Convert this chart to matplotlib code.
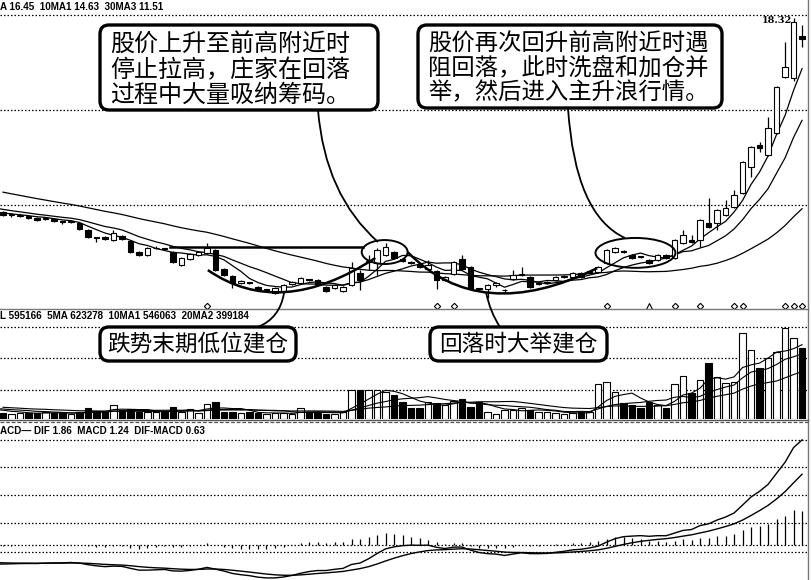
import numpy as np
import pandas as pd
import matplotlib
matplotlib.use("Agg")
import matplotlib.pyplot as plt
from matplotlib.patches import FancyBboxPatch, Ellipse, PathPatch
from matplotlib.path import Path

plt.rcParams['font.family'] = ['Noto Sans CJK SC', 'DejaVu Sans']

# ---------------- data ----------------
opens = [11.44, 11.33, 11.29, 11.30, 11.23, 11.19, 11.19, 11.09, 11.08, 11.05,
         10.80, 10.52, 10.55, 10.45, 10.59, 10.41, 10.02, 9.91, 10.15, 10.13,
         10.02, 9.56, 9.77, 9.91, 9.98, 10.09, 9.42, 9.17, 8.92, 8.93,
         8.78, 8.67, 8.57, 8.60, 8.89, 8.92, 9.04, 9.03, 8.78, 8.74,
         8.64, 8.85, 9.28, 9.67, 9.63, 9.91, 10.02, 9.76, 9.67, 9.60,
         9.42, 9.35, 9.03, 9.24, 9.77, 9.49, 8.72, 8.71, 8.85, 8.66,
         9.06, 9.21, 9.14, 8.88, 8.92, 9.03, 9.13, 9.14, 9.28, 9.31,
         9.31, 9.63, 10.02, 10.03, 9.91, 9.85, 9.74, 9.74, 9.91, 9.81,
         10.34, 10.45, 10.45, 11.05, 11.05, 11.33, 11.62, 12.11, 13.04, 13.82,
         13.46, 14.24, 16.23, 16.19, 17.68]
highs = [11.48, 11.40, 11.36, 11.33, 11.27, 11.25, 11.23, 11.13, 11.14, 11.08,
         10.83, 10.53, 10.58, 10.80, 10.62, 10.44, 10.05, 10.19, 10.22, 10.17,
         10.05, 9.84, 9.99, 10.05, 10.34, 10.13, 9.45, 9.20, 9.03, 8.97,
         8.81, 8.72, 8.78, 8.90, 8.99, 9.14, 9.08, 9.06, 8.81, 8.88,
         8.81, 9.67, 9.38, 9.92, 10.16, 10.34, 10.06, 9.80, 9.71, 9.63,
         9.74, 9.38, 9.17, 9.70, 9.92, 9.52, 8.76, 8.88, 8.96, 8.72,
         9.38, 9.49, 9.17, 8.94, 8.99, 9.17, 9.20, 9.31, 9.31, 9.36,
         9.52, 10.13, 10.20, 10.09, 9.95, 9.88, 9.77, 9.95, 9.95, 10.48,
         10.80, 10.62, 11.20, 11.94, 11.55, 11.87, 12.22, 13.25, 13.78, 13.92,
         14.81, 15.91, 17.47, 18.32, 18.07]
lows = [11.30, 11.28, 11.25, 11.20, 11.13, 11.15, 11.09, 11.03, 11.04, 10.81,
        10.52, 10.37, 10.45, 10.42, 10.45, 9.99, 9.88, 9.88, 10.12, 10.08,
        9.63, 9.53, 9.74, 9.88, 9.95, 9.34, 9.16, 8.74, 8.88, 8.88,
        8.64, 8.62, 8.53, 8.57, 8.85, 8.88, 8.99, 8.85, 8.60, 8.71,
        8.60, 8.81, 8.67, 9.38, 9.21, 9.88, 9.77, 9.68, 9.59, 9.45,
        9.38, 8.71, 8.99, 9.21, 9.38, 8.67, 8.64, 8.39, 8.78, 8.62,
        9.03, 9.17, 8.74, 8.85, 8.88, 8.99, 9.10, 9.10, 9.10, 9.27,
        9.28, 9.60, 9.99, 9.98, 9.77, 9.80, 9.60, 9.70, 9.77, 9.77,
        10.30, 10.34, 10.20, 10.87, 10.80, 11.30, 11.58, 12.08, 12.68, 13.57,
        13.42, 14.20, 16.19, 16.10, 17.29]
closes = [11.33, 11.34, 11.30, 11.23, 11.16, 11.21, 11.12, 11.08, 11.09, 10.84,
          10.55, 10.51, 10.48, 10.69, 10.48, 10.02, 9.91, 10.16, 10.17, 10.12,
          9.67, 9.81, 9.95, 10.02, 10.16, 9.38, 9.20, 8.92, 8.99, 8.92,
          8.67, 8.68, 8.74, 8.85, 8.96, 9.10, 9.03, 8.89, 8.64, 8.85,
          8.78, 9.45, 9.03, 9.68, 10.09, 10.20, 9.81, 9.72, 9.63, 9.49,
          9.56, 9.03, 9.14, 9.67, 9.42, 8.71, 8.70, 8.85, 8.92, 8.68,
          9.20, 9.24, 8.78, 8.90, 8.94, 9.14, 9.14, 9.28, 9.14, 9.32,
          9.49, 10.09, 10.16, 10.02, 9.81, 9.84, 9.63, 9.91, 9.81, 10.45,
          10.62, 10.38, 11.16, 10.91, 11.51, 11.58, 12.04, 13.21, 13.75, 13.71,
          14.42, 15.87, 16.58, 18.18, 17.57]
# volume, thousands of shares
volumes = [50, 42, 50, 50, 50, 59, 50, 50, 42, 59,
           92, 67, 59, 118, 76, 84, 59, 59, 59, 59,
           101, 59, 84, 50, 126, 143, 59, 59, 50, 59,
           50, 42, 50, 50, 42, 92, 59, 59, 42, 42,
           59, 244, 244, 244, 244, 227, 202, 143, 92, 92,
           143, 134, 118, 151, 168, 101, 143, 59, 42, 76,
           76, 92, 76, 59, 59, 50, 42, 50, 59, 59,
           294, 311, 227, 134, 118, 92, 143, 118, 92, 294,
           361, 218, 328, 470, 353, 302, 311, 722, 580, 428,
           512, 563, 764, 680, 596]
# earlier sessions (off-screen) feeding the moving averages
prior_closes = [13.10, 13.00, 12.95, 12.85, 12.80, 12.70, 12.65, 12.55, 12.50, 12.45,
                12.40, 12.35, 12.30, 12.25, 12.15, 12.10, 12.05, 12.00, 11.95, 11.90,
                11.80, 11.70, 11.65, 11.60, 11.55, 11.50, 11.45, 11.40, 11.35]
prior_volumes = [130, 120, 140, 110, 100, 125, 95, 105, 115, 90,
                 100, 85, 95, 110, 80, 90, 75, 85, 70]

signal_idx = [24, 51, 53, 71, 79, 82, 86, 87, 92, 93, 94]
triangle_idx = [76]

price_grid = [18.43, 15.06, 11.69]
vol_grid = [770, 510, 245]
macd_grid = [1.91, 1.42, 0.91, 0.40, 0.0, -0.13]

price_label = "A 16.45  10MA1 14.63  30MA3 11.51"
vol_label = "L 595166  5MA 623278  10MA1 546063  20MA2 399184"
macd_label = "ACD\u2014 DIF 1.86  MACD 1.24  DIF-MACD 0.63"
high_label = "18.32"

note1 = ["股价上升至前高附近时", "停止拉高，庄家在回落", "过程中大量吸纳筹码。"]
note2 = ["股价再次回升前高附近时遇", "阻回落，此时洗盘和加仓并", "举，然后进入主升浪行情。"]
note3 = "跌势末期低位建仓"
note4 = "回落时大举建仓"

# ---------------- figure ----------------
W, H = 811.0, 580.0
fig = plt.figure(figsize=(W / 100, H / 100), dpi=100)
fig.patch.set_facecolor('white')


def rect(x0, y0, x1, y1):
    return [x0 / W, 1 - y1 / H, (x1 - x0) / W, (y1 - y0) / H]


ax_p = fig.add_axes(rect(0, 0, 808, 309))
ax_v = fig.add_axes(rect(0, 309, 808, 419))
ax_m = fig.add_axes(rect(0, 420, 808, 580))

o = np.array(opens); h = np.array(highs); l = np.array(lows); c = np.array(closes)
v = np.array(volumes, dtype=float)
N = len(c)
x = np.arange(N)
npre = len(prior_closes)
xall = np.arange(-npre, N)
xlim = (-0.35, 94.7)

for ax in (ax_p, ax_v, ax_m):
    ax.set_xlim(*xlim)
    ax.set_xticks([]); ax.set_yticks([])
    for s in ax.spines.values():
        s.set_visible(False)
    ax.set_facecolor('none')

dot = (0, (1.2, 1.6))

# ---- price panel ----
ax_p.set_ylim(8.00, 18.96)
for g in price_grid:
    ax_p.axhline(g, color='black', lw=0.9, ls=dot, zorder=1)
allc = pd.Series(prior_closes + closes)
for w in (5, 10, 30):
    ma = allc.rolling(w).mean()
    ax_p.plot(xall, ma, color='black', lw=0.9, zorder=2)
up = c >= o
ax_p.vlines(x, l, h, color='black', lw=0.9, zorder=3)
bh = np.maximum(np.abs(c - o), 0.03)
ax_p.bar(x, bh, bottom=np.minimum(o, c), width=0.66,
         color=np.where(up, 'white', 'black'), edgecolor='black', lw=0.8, zorder=4)
ax_p.plot(signal_idx, [8.11] * len(signal_idx), ls='none', marker='D', ms=3.2,
          mfc='white', mec='black', mew=0.8, zorder=5)
ax_p.plot(triangle_idx, [8.11] * len(triangle_idx), ls='none', marker='^', ms=4,
          mfc='white', mec='black', mew=0.8, zorder=5)
imax = int(np.argmax(h))
ax_p.text(imax - 0.15, h[imax] - 0.08, high_label, fontsize=7, ha='right', va='center',
          family=['DejaVu Serif'], fontweight='bold', zorder=6)

# annotation shapes on the price chart (data coordinates)
ax_p.plot([19.6, 42.4], [10.20, 10.20], color='black', lw=1.8, zorder=5)
for (cx, cy, ew, eh) in [(44.9, 10.02, 5.4, 0.85), (74.4, 9.99, 9.4, 1.06)]:
    ax_p.add_patch(Ellipse((cx, cy), ew, eh, fill=False, ec='black', lw=1.4, zorder=6))
for P0, C0, P2 in [((24.1, 9.38), (32.6, 7.61), (43.8, 9.81)),
                   ((47.6, 10.02), (56.1, 7.40), (69.9, 9.45))]:
    ax_p.add_patch(PathPatch(Path([P0, C0, P2], [Path.MOVETO, Path.CURVE3, Path.CURVE3]),
                             fill=False, ec='black', lw=1.8, zorder=6))

# ---- volume panel ----
ax_v.set_ylim(0, 922)
for g in vol_grid:
    ax_v.axhline(g, color='black', lw=0.9, ls=dot, zorder=1)
ax_v.bar(x, v, width=0.74, color=np.where(up, 'white', 'black'),
         edgecolor='black', lw=0.8, zorder=3)
allv = pd.Series(prior_volumes + volumes, dtype=float)
xv = np.arange(-len(prior_volumes), N)
for w in (5, 10, 20):
    ax_v.plot(xv, allv.rolling(w).mean(), color='black', lw=0.8, zorder=4)

# ---- MACD panel ----
ax_m.set_ylim(-0.636, 2.273)
for g in macd_grid:
    ax_m.axhline(g, color='black', lw=0.9, ls=dot, zorder=1)
ema12 = allc.ewm(span=12, adjust=False).mean()
ema26 = allc.ewm(span=26, adjust=False).mean()
dif = ema12 - ema26
dea = dif.ewm(span=9, adjust=False).mean()
hist = (dif - dea).values[npre:]
ax_m.vlines(x, 0, hist, color='black', lw=0.9, zorder=2)
ax_m.plot(xall, dif, color='black', lw=1.0, zorder=3)
ax_m.plot(xall, dea, color='black', lw=1.0, zorder=3)

# ---------------- overlay (pixel coordinates) ----------------
ov = fig.add_axes([0, 0, 1, 1], zorder=10)
ov.set_xlim(0, W); ov.set_ylim(H, 0)
ov.axis('off')
ov.patch.set_alpha(0)

# frame / separators
ov.plot([808, 808], [0, 580], color='#777777', lw=1.0)
ov.plot([0, 808], [309, 309], color='#777777', lw=1.0)
ov.plot([0, 808], [419.5, 419.5], color='#555555', lw=1.0)
ov.plot([0, 808], [422, 422], color='#555555', lw=0.9, ls=(0, (3, 1.5)))

hdr = dict(fontsize=7.1, fontweight='bold', ha='left', va='center',
           family=['Liberation Sans', 'DejaVu Sans'])
ov.text(0, 7, price_label, **hdr)
ov.text(0, 316, vol_label, **hdr)
ov.text(0, 431, macd_label, **hdr)

# callout boxes
for (bx0, by0, bx1, by1) in [(100, 25, 378, 110), (418, 25, 722, 108),
                             (100, 327, 296, 361), (430, 327, 607, 361)]:
    ov.add_patch(FancyBboxPatch((bx0, by0), bx1 - bx0, by1 - by0,
                                boxstyle="round,pad=0,rounding_size=9",
                                fc='white', ec='black', lw=2.4, zorder=5))
for i, t in enumerate(note1):
    ov.text(110, 45 + 25 * i, t, fontsize=17.3, ha='left', va='center', zorder=6)
for i, t in enumerate(note2):
    ov.text(428, 44 + 24.5 * i, t, fontsize=16.8, ha='left', va='center', zorder=6)
ov.text(198, 344, note3, fontsize=16.3, ha='center', va='center', zorder=6)
ov.text(518, 344, note4, fontsize=16.3, ha='center', va='center', zorder=6)

# leader curves
for P0, C0, P2 in [((318, 110), (325, 195), (378, 242)),
                   ((568, 108), (575, 215), (625, 238)),
                   ((258, 327), (280, 318), (284, 293)),
                   ((500, 327), (490, 312), (486, 292))]:
    ov.add_patch(PathPatch(Path([P0, C0, P2], [Path.MOVETO, Path.CURVE3, Path.CURVE3]),
                           fill=False, ec='black', lw=1.3, zorder=4))

fig.savefig('out.png', dpi=100, facecolor='white')
